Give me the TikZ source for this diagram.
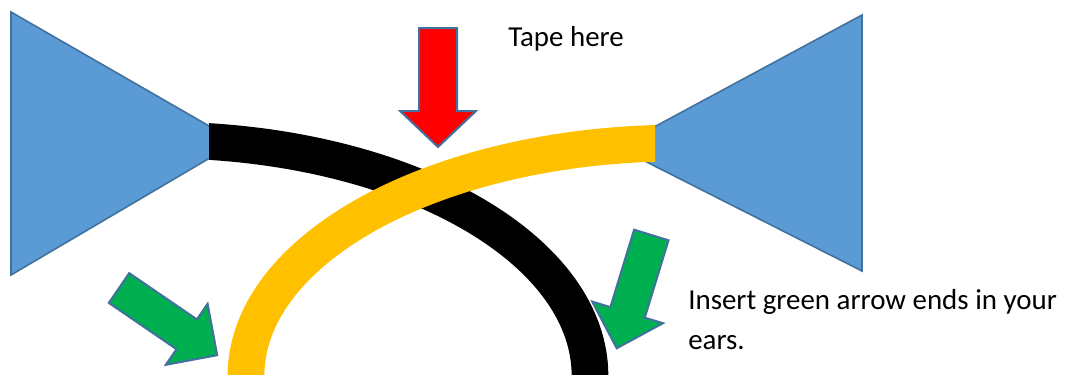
\documentclass[tikz,border=0pt]{standalone}
\usepackage{fontspec}
\setmainfont{Carlito}
\definecolor{triblue}{HTML}{5B9BD5}
\definecolor{edgeblue}{HTML}{41719C}
\definecolor{tapered}{HTML}{FF0000}
\definecolor{eargreen}{HTML}{00B050}
\definecolor{bandyellow}{HTML}{FFC000}
\begin{document}
\begin{tikzpicture}[x=0.75pt,y=-0.75pt,
  speaker/.style={fill=triblue, draw=edgeblue, line width=1.2pt, line join=miter},
  arrowshape/.style={draw=edgeblue, line width=1.5pt, line join=miter},
  band/.style={line width=27.5pt, line cap=butt},
  txt/.style={inner sep=0pt, anchor=base west, font=\fontsize{21.7}{30}\selectfont}]
\useasboundingbox (0,0) rectangle (1068,375);
% speakers
\draw[speaker] (11,12) -- (237,142) -- (11,275) -- cycle;
\draw[speaker] (862,15) -- (617,147) -- (862,271) -- cycle;
% black band
\begin{scope}
  \clip (209,0) rectangle (1068,376);
  \draw[band, black] (160,140) .. controls (397.5,140) and (590,245.2) .. (590,376);
\end{scope}
% yellow band
\begin{scope}
  \clip (0,0) rectangle (655,376);
  \draw[band, bandyellow] (680,143) .. controls (440.3,143) and (246,246.9) .. (246,376);
\end{scope}
% red arrow
\draw[arrowshape, fill=tapered] (419,28) -- (457,28) -- (457,111) -- (476,111) -- (438,147) -- (400,111) -- (419,111) -- cycle;
% green arrows
\draw[arrowshape, fill=eargreen] (129.2,273.1) -- (196.9,319.4) -- (207.6,303.8) -- (217.2,355.2) -- (165.8,364.8) -- (176.5,349.2) -- (108.8,302.9) -- cycle;
\draw[arrowshape, fill=eargreen] (668.5,240.3) -- (644.8,317.7) -- (663,323.2) -- (616.7,348.3) -- (592.2,301.6) -- (610.4,307.1) -- (634.1,229.7) -- cycle;
% texts
\node[txt] (tape) at (508,46) {Tape here};
\node[txt] (ins1) at (688,309) {Insert green arrow ends in your};
\node[txt] (ins2) at (688,349) {ears.};
\end{tikzpicture}
\end{document}
